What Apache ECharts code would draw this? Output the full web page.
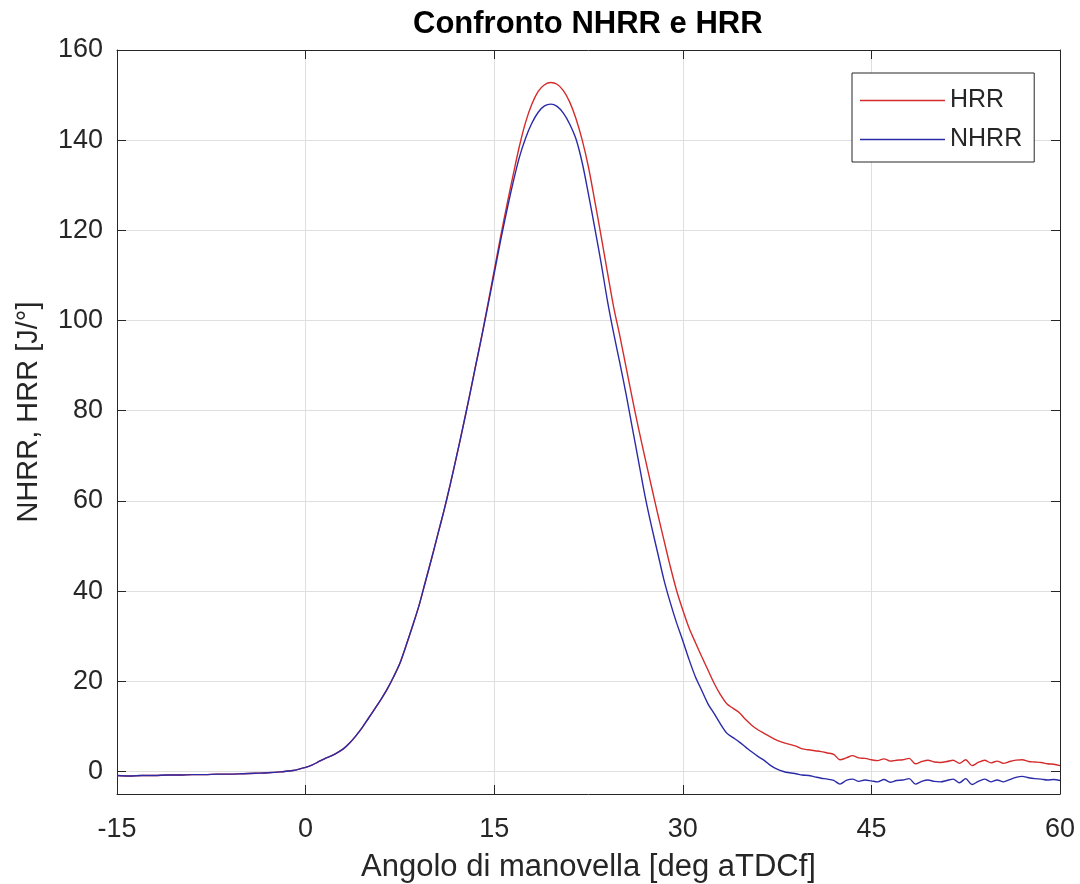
<!DOCTYPE html>
<html>
<head>
<meta charset="utf-8">
<script src="https://cdn.jsdelivr.net/npm/echarts@6/dist/echarts.min.js"></script>
<style>
  html, body { margin: 0; padding: 0; background: #ffffff; }
  #chart { width: 1080px; height: 884px; }
</style>
</head>
<body>
<div id="chart"></div>
<script>
// Crank angle [deg aTDCf]
const angle = [
  -15, -14, -13, -12, -11, -10, -9, -8, -7, -6, -5, -4, -3, -2, -1, 0,
  0.5, 1, 1.5, 2, 2.5, 3, 3.5, 4, 4.5, 5, 5.5, 6, 6.5, 7, 7.5, 8, 8.5, 9, 9.5, 10,
  10.5, 11, 11.5, 12, 12.5, 13, 13.5, 14, 14.5, 15, 15.5, 16, 16.5, 17, 17.5, 18, 18.5, 19, 19.5, 20,
  20.5, 21, 21.5, 22, 22.5, 23, 23.5, 24, 24.5, 25, 25.5, 26, 26.5, 27, 27.5, 28, 28.5, 29, 29.5, 30,
  30.5, 31, 31.5, 32, 32.5, 33, 33.5, 34, 34.5, 35, 35.5, 36, 36.5, 37, 37.5, 38, 38.5, 39, 39.5, 40,
  40.5, 41, 41.5, 42, 42.5, 43, 43.5, 44, 44.5, 45, 45.5, 46, 46.5, 47, 47.5, 48, 48.5, 49, 49.5, 50,
  50.5, 51, 51.5, 52, 52.5, 53, 53.5, 54, 54.5, 55, 55.5, 56, 56.5, 57, 57.5, 58, 58.5, 59, 59.5, 60
];

// HRR [J/deg]
const hrr = [
  -0.9, -1.0, -0.9, -0.9, -0.8, -0.8, -0.7, -0.7, -0.6, -0.6, -0.5, -0.4, -0.3, -0.1, 0.2, 0.9,
  1.4, 2.1, 2.8, 3.4, 4.1, 5.0, 6.3, 7.9, 9.7, 11.8, 13.9, 16.0, 18.3, 21.0, 24.0, 28.0, 32.2, 36.6, 41.8, 47.0,
  52.4, 57.8, 63.6, 69.8, 76.2, 82.8, 89.7, 96.5, 103.7, 111.1, 118.5, 125.5, 132.2, 138.6, 144.0, 148.0, 150.8, 152.3, 152.8, 152.4,
  151.0, 148.5, 144.8, 140.0, 134.0, 126.5, 118.8, 110.8, 103.0, 96.5, 89.5, 82.5, 75.8, 69.5, 63.3, 57.2, 51.3, 45.5, 40.2, 35.8,
  31.8, 28.6, 25.5, 22.5, 19.5, 17.0, 15.0, 14.0, 13.0, 11.5, 10.2, 9.2, 8.4, 7.6, 6.9, 6.4, 6.0, 5.6, 5.0, 4.8,
  4.6, 4.4, 4.1, 3.8, 2.6, 3.0, 3.5, 3.0, 2.9, 2.6, 2.4, 2.8, 2.3, 2.5, 2.6, 2.9, 1.7, 2.2, 2.5, 2.1,
  2.0, 2.2, 2.5, 1.8, 2.6, 1.3, 2.0, 2.5, 1.9, 2.3, 1.8, 2.2, 2.5, 2.6, 2.2, 2.1, 2.0, 1.7, 1.6, 1.3
];

// NHRR [J/deg]
const nhrr = [
  -0.9, -1.0, -0.9, -0.9, -0.8, -0.8, -0.7, -0.7, -0.6, -0.6, -0.5, -0.4, -0.3, -0.1, 0.2, 0.9,
  1.4, 2.1, 2.8, 3.4, 4.1, 5.0, 6.3, 7.9, 9.7, 11.8, 13.9, 16.0, 18.3, 21.0, 24.0, 28.0, 32.2, 36.6, 41.8, 47.0,
  52.4, 57.8, 63.6, 69.8, 76.2, 82.8, 89.6, 96.3, 103.3, 110.4, 117.6, 124.3, 130.6, 136.2, 140.5, 143.8, 146.2, 147.6, 148.0, 147.5,
  146.0, 143.6, 140.3, 135.0, 128.0, 120.5, 112.8, 104.5, 97.2, 90.5, 83.5, 76.0, 68.5, 61.0, 54.5, 48.5, 42.5, 37.5, 33.0, 29.0,
  24.8, 21.0, 18.0, 15.0, 12.8, 10.5, 8.5, 7.5, 6.5, 5.4, 4.3, 3.3, 2.4, 1.3, 0.5, 0.0, -0.3, -0.5, -0.8, -0.9,
  -1.2, -1.5, -1.7, -2.0, -2.8, -2.0, -1.7, -2.2, -1.9, -2.1, -2.3, -1.8, -2.4, -2.0, -1.9, -1.6, -2.8, -2.2, -1.9, -2.2,
  -2.3, -2.0, -1.7, -2.5, -1.6, -2.9, -2.2, -1.7, -2.3, -1.9, -2.3, -1.8, -1.3, -1.1, -1.4, -1.6, -1.7, -1.9, -1.8, -2.0
];

const seriesNames = ['HRR', 'NHRR'];
const xTicks = [-15, 0, 15, 30, 45, 60];
const yTicks = [0, 20, 40, 60, 80, 100, 120, 140, 160];

const FONT = '"Liberation Sans", Arial, Helvetica, sans-serif';
const INK = '#262626';

const chart = echarts.init(document.getElementById('chart'), null, { renderer: 'canvas' });

function pairs(ys) { return angle.map((a, i) => [a, ys[i]]); }

const xBase = {
  type: 'value', min: xTicks[0], max: xTicks[xTicks.length - 1], interval: 15,
  axisLine: { show: true, onZero: false, lineStyle: { color: INK, width: 1 } },
  axisTick: { show: true, inside: true, length: 9, lineStyle: { color: INK } }
};
const yBase = {
  type: 'value', min: -5, max: yTicks[yTicks.length - 1], splitNumber: 8, minInterval: 20, maxInterval: 20,
  axisLine: { show: true, onZero: false, lineStyle: { color: INK, width: 1 } },
  axisTick: { show: true, inside: true, length: 9, lineStyle: { color: INK } }
};

const option = {
  backgroundColor: '#ffffff',
  animation: false,
  title: {
    text: 'Confronto NHRR e HRR',
    left: 413, top: 9, padding: 0,
    textStyle: { fontFamily: FONT, fontSize: 31, fontWeight: 'bold', color: '#000000' }
  },
  grid: { left: 117, right: 20, top: 50, bottom: 90, containLabel: false, outerBoundsMode: 'none' },
  legend: {
    data: seriesNames,
    orient: 'vertical', left: 852, top: 73,
    padding: [15, 12, 10, 8], itemGap: 14, itemWidth: 85, itemHeight: 1.5, icon: 'rect',
    borderColor: INK, borderWidth: 1, backgroundColor: '#ffffff',
    textStyle: { fontFamily: FONT, fontSize: 25, lineHeight: 20, color: INK }
  },
  xAxis: [
    Object.assign({}, xBase, {
      position: 'bottom',
      name: 'Angolo di manovella [deg aTDCf]', nameLocation: 'middle', nameGap: 58,
      nameTextStyle: { fontFamily: FONT, fontSize: 31, color: INK },
      axisLabel: { show: true, margin: 22, fontFamily: FONT, fontSize: 27, color: INK },
      splitLine: { show: true, lineStyle: { color: '#dfdfdf', width: 1 } }
    }),
    Object.assign({}, xBase, {
      position: 'top', axisLabel: { show: false }, splitLine: { show: false }
    })
  ],
  yAxis: [
    Object.assign({}, yBase, {
      position: 'left',
      name: 'NHRR, HRR [J/°]', nameLocation: 'middle', nameGap: 74,
      nameTextStyle: { fontFamily: FONT, fontSize: 29, color: INK, padding: [0, 0, 0, 20] },
      axisLabel: {
        show: true, margin: 14, fontFamily: FONT, fontSize: 27, color: INK,
        formatter: v => (yTicks.indexOf(v) >= 0 ? String(v) : '')
      },
      splitLine: { show: true, lineStyle: { color: '#dfdfdf', width: 1 } }
    }),
    Object.assign({}, yBase, {
      position: 'right', axisLabel: { show: false }, splitLine: { show: false }
    })
  ],
  series: [
    {
      name: seriesNames[0], type: 'line', data: pairs(hrr),
      xAxisIndex: 0, yAxisIndex: 0, symbol: 'none', smooth: 0.3,
      lineStyle: { color: '#d42b2b', width: 1.4 }, itemStyle: { color: '#d42b2b' }
    },
    {
      name: seriesNames[1], type: 'line', data: pairs(nhrr),
      xAxisIndex: 0, yAxisIndex: 0, symbol: 'none', smooth: 0.3,
      lineStyle: { color: '#2b2ba8', width: 1.4 }, itemStyle: { color: '#2b2ba8' }
    }
  ]
};

chart.setOption(option);
</script>
</body>
</html>
